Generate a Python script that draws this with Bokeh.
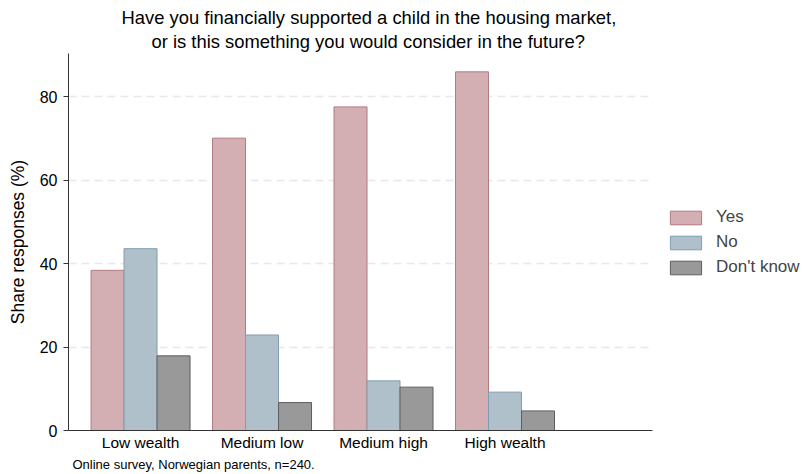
from bokeh.plotting import figure
from bokeh.models import (ColumnDataSource, FixedTicker, Legend, LegendItem, Title)
from bokeh.embed import file_html
from bokeh.resources import INLINE

categories = ["Low wealth", "Medium low", "Medium high", "High wealth"]
yes_vals = [38.4, 70.1, 77.6, 86.0]
no_vals = [43.6, 22.9, 11.9, 9.2]
dk_vals = [17.9, 6.7, 10.4, 4.7]
series_names = ["Yes", "No", "Don't know"]
y_ticks = [0, 20, 40, 60, 80]

FONT = "Liberation Sans"
xpos = list(range(len(categories)))
bw = 0.2716

p = figure(frame_width=584, frame_height=377, x_range=(-0.593, 4.214), y_range=(0, 90.4),
           output_backend="svg", toolbar_location=None,
           min_border_left=68, min_border_right=153, min_border_top=53, min_border_bottom=44)
p.outline_line_color = None
p.background_fill_color = "white"
p.border_fill_color = "white"

styles = [("#d3aeb3", "#b27a82"), ("#afc0cb", "#7f9db1"), ("#999999", "#5e5e5e")]
renderers = []
for i, (vals, (fc, lc)) in enumerate(zip([yes_vals, no_vals, dk_vals], styles)):
    src = ColumnDataSource(dict(x=[x + (i - 1) * bw for x in xpos], top=vals))
    r = p.vbar(x="x", top="top", width=bw, source=src, fill_color=fc, line_color=lc, line_width=1)
    renderers.append(r)

# axes
p.xaxis.ticker = FixedTicker(ticks=xpos)
p.xaxis.major_label_overrides = {i: c for i, c in enumerate(categories)}
p.xaxis.major_tick_out = 0
p.xaxis.major_tick_in = 0
p.xaxis.minor_tick_line_color = None
p.xaxis.major_label_standoff = 3
p.xaxis.major_label_text_font = FONT
p.xaxis.major_label_text_font_size = "15.5px"
p.xaxis.major_label_text_color = "black"
p.xaxis.axis_line_color = "#333333"

p.yaxis.ticker = FixedTicker(ticks=y_ticks)
p.yaxis.major_tick_out = 5
p.yaxis.major_tick_in = 0
p.yaxis.minor_tick_line_color = None
p.yaxis.major_label_standoff = 6
p.yaxis.major_label_text_font = FONT
p.yaxis.major_label_text_font_size = "16px"
p.yaxis.major_label_text_color = "black"
p.yaxis.axis_line_color = "#333333"
p.yaxis.major_tick_line_color = "#333333"
p.yaxis.axis_label = "Share responses (%)"
p.yaxis.axis_label_text_font = FONT
p.yaxis.axis_label_text_font_size = "17.5px"
p.yaxis.axis_label_text_font_style = "normal"
p.yaxis.axis_label_text_color = "black"
p.yaxis.axis_label_standoff = 9

p.xgrid.grid_line_color = None
p.ygrid.ticker = FixedTicker(ticks=[t for t in y_ticks if t > 0])
p.ygrid.grid_line_color = "#e8e8e8"
p.ygrid.grid_line_dash = "8 5"
p.ygrid.grid_line_width = 1.5

legend = Legend(items=[LegendItem(label=n, renderers=[r]) for n, r in zip(series_names, renderers)],
                location=(14, 153), padding=0, margin=0, spacing=5,
                glyph_width=39, glyph_height=17, label_height=17, label_standoff=11,
                label_text_font=FONT, label_text_font_size="17px",
                border_line_color=None, background_fill_alpha=0)
p.add_layout(legend, "right")

title_lines = ["Have you financially supported a child in the housing market,",
               "or is this something you would consider in the future?"]
title_offsets = [53, 83]
title_standoffs = [0, 3]
for txt, off, so in reversed(list(zip(title_lines, title_offsets, title_standoffs))):
    p.add_layout(Title(text=txt, align="left", offset=off, standoff=so,
                       text_font=FONT, text_font_size="18.4px", text_font_style="normal",
                       text_color="black"), "above")

p.add_layout(Title(text="Online survey, Norwegian parents, n=240.", align="left", offset=4,
                   standoff=3, text_font=FONT, text_font_size="13px",
                   text_font_style="normal", text_color="black"), "below")

open("out.html", "w").write(file_html(p, INLINE))
